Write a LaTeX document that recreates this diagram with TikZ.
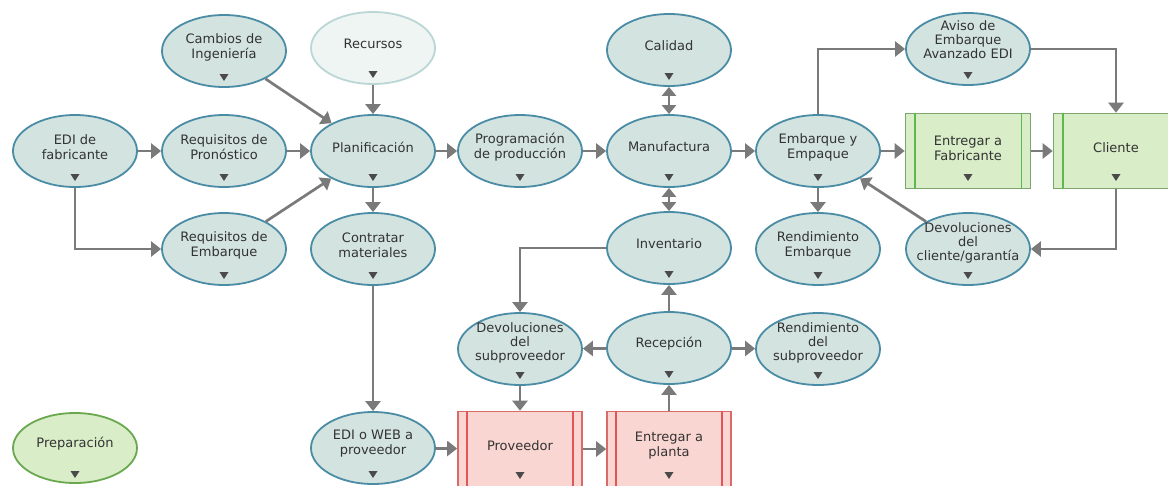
\documentclass[tikz,border=0pt]{standalone}
\usepackage{fontspec}
\setmainfont{DejaVu Sans}
\usetikzlibrary{shapes.geometric,arrows.meta,calc}
\definecolor{ellf}{HTML}{D3E3DF}
\definecolor{ellb}{HTML}{4A8CA5}
\definecolor{resf}{HTML}{EEF5F3}
\definecolor{resb}{HTML}{BCD6D6}
\definecolor{grf}{HTML}{D9EDC8}
\definecolor{grb}{HTML}{7FA56E}
\definecolor{grbar}{HTML}{5DB84E}
\definecolor{prepb}{HTML}{6AA84F}
\definecolor{rdf}{HTML}{FAD6D2}
\definecolor{rdb}{HTML}{D86A6A}
\definecolor{rdbar}{HTML}{E05555}
\definecolor{arrc}{HTML}{7A7A7A}
\definecolor{txtc}{HTML}{333333}
\definecolor{mkc}{HTML}{4A4A4A}
\tikzset{
  ell/.style={ellipse, draw=ellb, fill=ellf, line width=1.8pt, minimum width=124pt, minimum height=72pt, inner sep=0pt},
  res/.style={ellipse, draw=resb, fill=resf, line width=1.8pt, minimum width=124pt, minimum height=72pt, inner sep=0pt},
  prep/.style={ellipse, draw=prepb, fill=grf, line width=1.8pt, minimum width=124pt, minimum height=70pt, inner sep=0pt},
  procg/.style={rectangle, draw=grb, fill=grf, line width=1.6pt, minimum width=125pt, minimum height=75pt, inner sep=0pt},
  procr/.style={rectangle, draw=rdb, fill=rdf, line width=1.6pt, minimum width=124pt, minimum height=75pt, inner sep=0pt},
  txt/.style={align=center, font=\fontsize{13}{15}\selectfont, text=txtc, inner sep=0pt},
  mk/.style={fill=mkc},
  arr/.style={draw=arrc, line width=2.7pt, -{Triangle[length=10pt,width=15pt]}},
  darr/.style={draw=arrc, line width=2.7pt, {Triangle[length=9pt,width=14pt]}-{Triangle[length=9pt,width=14pt]}},
}
% #1 style, #2 name, #3 x, #4 y, #5 text offset up, #6 text
\newcommand\mknode[6]{%
  \node[#1] (#2) at (#3,#4) {};
  \node[txt] (#2-t) at ($(#2.center)+(0,-#5)$) {#6};
  \fill[mk] ($(#2.center)+(-4.5,23)$) -- ++(9,0) -- ++(-4.5,7) -- cycle;
}
\newcommand\bars[2]{%
  \draw[#2, line width=1.6pt] ([xshift=10pt]#1.north west) -- ([xshift=10pt]#1.south west);
  \draw[#2, line width=1.6pt] ([xshift=-10pt]#1.north east) -- ([xshift=-10pt]#1.south east);
}
\begin{document}
\begin{tikzpicture}[x=1pt,y=-1pt]
\useasboundingbox (0,0) rectangle (1168,485);
\clip (0,0) rectangle (1168,485);
\fill[white] (0,0) rectangle (1168,485);

\mknode{ell}{edi}{75}{151}{4}{EDI de\\fabricante}
\mknode{ell}{camb}{224}{51}{4}{Cambios de\\Ingeniería}
\mknode{res}{rec}{373}{48}{4}{Recursos}
\mknode{ell}{reqp}{224}{151}{4}{Requisitos de\\Pronóstico}
\mknode{ell}{plan}{373}{151}{4}{Planificación}
\mknode{ell}{reqe}{224}{249}{4}{Requisitos de\\Embarque}
\mknode{ell}{contr}{373}{249}{4}{Contratar\\materiales}
\mknode{ell}{prog}{520}{151}{4}{Programación\\de producción}
\mknode{ell}{cal}{669}{50}{4}{Calidad}
\mknode{ell}{manu}{669}{151}{4}{Manufactura}
\mknode{ell}{inv}{669}{248}{4}{Inventario}
\mknode{ell}{emb}{818}{151}{4}{Embarque y\\Empaque}
\mknode{ell}{rendE}{818}{249}{4}{Rendimiento\\Embarque}
\mknode{ell}{aviso}{968}{49}{9}{Aviso de\\[-1pt]Embarque\\[-1pt]Avanzado EDI}
\mknode{procg}{entf}{968}{151}{3}{Entregar a\\Fabricante}
\bars{entf}{grbar}
\mknode{procg}{cli}{1116}{151}{3}{Cliente}
\bars{cli}{grbar}
\mknode{ell}{devc}{968}{249}{6}{Devoluciones\\[-1pt]del\\[-1pt]cliente/garantía}
\mknode{ell}{devs}{520}{349}{6}{Devoluciones\\[-1pt]del\\[-1pt]subproveedor}
\mknode{ell}{recp}{669}{348}{4}{Recepción}
\mknode{ell}{rends}{818}{349}{6}{Rendimiento\\[-1pt]del\\[-1pt]subproveedor}
\mknode{ell}{ediw}{373}{448}{4}{EDI o WEB a\\proveedor}
\mknode{procr}{prov}{520}{449}{3}{Proveedor}
\bars{prov}{rdbar}
\mknode{procr}{entp}{669}{449}{3}{Entregar a\\planta}
\bars{entp}{rdbar}
\mknode{prep}{prepn}{75}{448}{4}{Preparación}

\draw[arr] (edi) -- (reqp);
\draw[arr] (edi) |- (reqe);
\draw[arr] (camb) -- (plan);
\draw[arr] (rec) -- (plan);
\draw[arr] (reqp) -- (plan);
\draw[arr] (reqe) -- (plan);
\draw[arr] (plan) -- (prog);
\draw[arr] (plan) -- (contr);
\draw[arr] (prog) -- (manu);
\draw[darr] (cal) -- (manu);
\draw[darr] (manu) -- (inv);
\draw[arr] (manu) -- (emb);
\draw[arr] (emb) |- (aviso);
\draw[arr] (emb) -- (entf);
\draw[arr] (emb) -- (rendE);
\draw[arr] (aviso) -| (cli);
\draw[arr] (entf) -- (cli);
\draw[arr] (cli) |- (devc);
\draw[arr] (devc) -- (emb);
\draw[arr] (inv) -| (devs);
\draw[arr] (recp) -- (inv);
\draw[arr] (recp) -- (devs);
\draw[arr] (recp) -- (rends);
\draw[arr] (contr) -- (ediw);
\draw[arr] (ediw) -- (prov);
\draw[arr] (devs) -- (prov);
\draw[arr] (prov) -- (entp);
\draw[arr] (entp) -- (recp);
\end{tikzpicture}
\end{document}
